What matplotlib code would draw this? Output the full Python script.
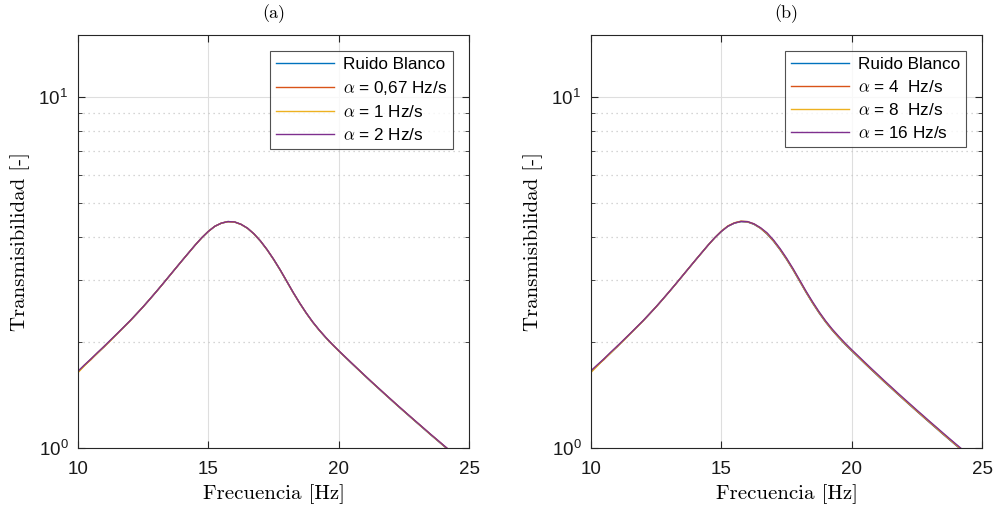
import math
import matplotlib
matplotlib.use("Agg")
import matplotlib.pyplot as plt
from matplotlib.ticker import FixedLocator, LogLocator, NullFormatter, FuncFormatter

plt.rcParams['font.family'] = ['Liberation Sans', 'DejaVu Sans']
plt.rcParams['mathtext.fontset'] = 'cm'

# frecuencias [Hz]
freq = [10.0, 10.25, 10.5, 10.75, 11.0, 11.25, 11.5, 11.75, 12.0, 12.25, 12.5, 12.75,
        13.0, 13.25, 13.5, 13.75, 14.0, 14.25, 14.5, 14.75, 15.0, 15.25, 15.5, 15.75,
        16.0, 16.25, 16.5, 16.75, 17.0, 17.25, 17.5, 17.75, 18.0, 18.25, 18.5, 18.75,
        19.0, 19.25, 19.5, 19.75, 20.0, 20.25, 20.5, 20.75, 21.0, 21.25, 21.5, 21.75,
        22.0, 22.25, 22.5, 22.75, 23.0, 23.25, 23.5, 23.75, 24.0, 24.25, 24.5]

# (a) transmisibilidad
ruido_a = [1.650, 1.719, 1.790, 1.865, 1.943, 2.027, 2.115, 2.207, 2.303, 2.411, 2.525, 2.651,
           2.786, 2.931, 3.087, 3.251, 3.423, 3.601, 3.788, 3.971, 4.139, 4.280, 4.369, 4.413,
           4.403, 4.335, 4.224, 4.068, 3.881, 3.670, 3.445, 3.216, 2.987, 2.773, 2.586, 2.423,
           2.283, 2.165, 2.063, 1.972, 1.890, 1.814, 1.741, 1.672, 1.606, 1.543, 1.484, 1.427,
           1.373, 1.321, 1.272, 1.225, 1.180, 1.137, 1.095, 1.056, 1.018, 0.982, 0.947]
a067 = [1.645, 1.722, 1.786, 1.868, 1.940, 2.027, 2.115, 2.207, 2.303, 2.411, 2.525, 2.651,
        2.786, 2.931, 3.087, 3.251, 3.423, 3.601, 3.788, 3.971, 4.139, 4.280, 4.369, 4.413,
        4.403, 4.335, 4.226, 4.071, 3.884, 3.673, 3.448, 3.219, 2.990, 2.775, 2.588, 2.425,
        2.285, 2.167, 2.065, 1.974, 1.892, 1.816, 1.743, 1.674, 1.608, 1.545, 1.486, 1.429,
        1.375, 1.323, 1.274, 1.227, 1.182, 1.139, 1.097, 1.058, 1.020, 0.984, 0.949]
a1 = [1.640, 1.716, 1.793, 1.862, 1.946, 2.024, 2.115, 2.207, 2.303, 2.411, 2.525, 2.651,
      2.786, 2.931, 3.087, 3.251, 3.423, 3.601, 3.788, 3.971, 4.139, 4.280, 4.369, 4.413,
      4.403, 4.335, 4.226, 4.071, 3.884, 3.673, 3.448, 3.219, 2.990, 2.775, 2.588, 2.425,
      2.285, 2.167, 2.065, 1.974, 1.892, 1.816, 1.743, 1.674, 1.608, 1.545, 1.486, 1.429,
      1.375, 1.323, 1.274, 1.227, 1.182, 1.139, 1.097, 1.058, 1.020, 0.984, 0.949]
a2 = [1.655, 1.725, 1.795, 1.870, 1.948, 2.031, 2.117, 2.209, 2.305, 2.412, 2.526, 2.652,
      2.787, 2.932, 3.088, 3.252, 3.424, 3.602, 3.789, 3.972, 4.140, 4.281, 4.370, 4.414,
      4.405, 4.338, 4.229, 4.075, 3.888, 3.677, 3.452, 3.223, 2.993, 2.778, 2.591, 2.428,
      2.288, 2.170, 2.067, 1.976, 1.894, 1.818, 1.745, 1.676, 1.610, 1.547, 1.488, 1.431,
      1.377, 1.325, 1.276, 1.229, 1.184, 1.141, 1.099, 1.060, 1.022, 0.986, 0.951]

# (b) transmisibilidad
ruido_b = [1.650, 1.719, 1.790, 1.865, 1.943, 2.027, 2.115, 2.207, 2.303, 2.411, 2.525, 2.651,
           2.786, 2.931, 3.087, 3.251, 3.423, 3.601, 3.788, 3.971, 4.139, 4.280, 4.369, 4.413,
           4.403, 4.335, 4.224, 4.068, 3.881, 3.670, 3.445, 3.216, 2.987, 2.773, 2.586, 2.423,
           2.283, 2.165, 2.063, 1.972, 1.890, 1.814, 1.741, 1.672, 1.606, 1.543, 1.484, 1.427,
           1.373, 1.321, 1.272, 1.225, 1.180, 1.137, 1.095, 1.056, 1.018, 0.982, 0.947]
a4 = [1.655, 1.724, 1.787, 1.869, 1.941, 2.030, 2.116, 2.208, 2.304, 2.412, 2.526, 2.652,
      2.787, 2.932, 3.088, 3.252, 3.424, 3.602, 3.789, 3.972, 4.142, 4.284, 4.373, 4.418,
      4.408, 4.342, 4.228, 4.076, 3.889, 3.677, 3.452, 3.222, 2.993, 2.779, 2.591, 2.428,
      2.288, 2.169, 2.067, 1.976, 1.894, 1.818, 1.744, 1.675, 1.609, 1.546, 1.487, 1.430,
      1.375, 1.324, 1.274, 1.227, 1.182, 1.139, 1.097, 1.058, 1.020, 0.984, 0.949]
a8 = [1.642, 1.714, 1.794, 1.861, 1.947, 2.023, 2.114, 2.206, 2.303, 2.411, 2.525, 2.651,
      2.786, 2.931, 3.087, 3.251, 3.423, 3.601, 3.788, 3.971, 4.145, 4.290, 4.380, 4.425,
      4.412, 4.347, 4.232, 4.084, 3.897, 3.685, 3.459, 3.229, 2.999, 2.784, 2.596, 2.433,
      2.292, 2.174, 2.071, 1.980, 1.898, 1.821, 1.748, 1.679, 1.612, 1.549, 1.490, 1.433,
      1.378, 1.326, 1.277, 1.230, 1.185, 1.142, 1.099, 1.060, 1.022, 0.986, 0.951]
a16 = [1.660, 1.727, 1.796, 1.872, 1.950, 2.031, 2.118, 2.210, 2.306, 2.413, 2.527, 2.653,
       2.788, 2.933, 3.089, 3.253, 3.425, 3.603, 3.790, 3.973, 4.141, 4.283, 4.374, 4.420,
       4.414, 4.350, 4.241, 4.101, 3.912, 3.699, 3.473, 3.242, 3.011, 2.795, 2.607, 2.442,
       2.301, 2.182, 2.080, 1.988, 1.905, 1.829, 1.755, 1.685, 1.619, 1.555, 1.496, 1.438,
       1.384, 1.332, 1.282, 1.235, 1.189, 1.146, 1.104, 1.064, 1.026, 0.990, 0.955]

labels_a = ['Ruido Blanco', r'$\alpha$ = 0,67 Hz/s', r'$\alpha$ = 1 Hz/s', r'$\alpha$ = 2 Hz/s']
labels_b = ['Ruido Blanco', r'$\alpha$ = 4  Hz/s', r'$\alpha$ = 8  Hz/s', r'$\alpha$ = 16 Hz/s']
colores = ['#0072BD', '#D95319', '#EDB120', '#7E2F8E']

fig = plt.figure(figsize=(9.95, 5.09), dpi=100)
ax1 = fig.add_axes([0.0784, 0.1198, 0.3930, 0.8114])
ax2 = fig.add_axes([0.5940, 0.1198, 0.3930, 0.8114])

paneles = [(ax1, [ruido_a, a067, a1, a2], labels_a, '(a)'),
           (ax2, [ruido_b, a4, a8, a16], labels_b, '(b)')]

def pot10(v, pos):
    return r'$\mathregular{10^{%d}}$' % round(math.log10(v))

for ax, series, labels, titulo in paneles:
    for ys, lab, c in zip(series, labels, colores):
        ax.plot(freq, ys, color=c, lw=1.0, label=lab)
    ax.set_yscale('log')
    ax.set_xlim(10, 25)
    ax.set_ylim(1, 15)
    ax.xaxis.set_major_locator(FixedLocator([10, 15, 20, 25]))
    ax.yaxis.set_major_locator(FixedLocator([1, 10]))
    ax.yaxis.set_major_formatter(FuncFormatter(pot10))
    ax.yaxis.set_minor_locator(LogLocator(base=10, subs=range(2, 10)))
    ax.yaxis.set_minor_formatter(NullFormatter())
    ax.grid(True, which='major', color='#dedede', lw=0.8, ls='-')
    ax.grid(True, which='minor', axis='y', color='#c8c8c8', lw=0.9, ls=(0, (1, 3)))
    ax.set_axisbelow(True)
    for s in ax.spines.values():
        s.set_color('#262626')
        s.set_linewidth(0.8)
    ax.tick_params(which='both', direction='in', top=True, right=True, colors='#262626',
                   labelsize=13.5, labelcolor='#1a1a1a')
    ax.tick_params(which='major', length=5)
    ax.tick_params(which='minor', length=3)
    ax.tick_params(axis='x', pad=9)
    ax.tick_params(axis='y', pad=7)
    ax.set_xlabel('Frecuencia [Hz]', fontfamily='cmr10', fontsize=15, labelpad=5)
    ax.set_ylabel('Transmisibilidad [-]', fontfamily='cmr10', fontsize=15, labelpad=6)
    ax.set_title(titulo, fontfamily='cmr10', fontsize=13, pad=12)
    leg = ax.legend(loc='upper right', fontsize=12.3, frameon=True, fancybox=False,
                    borderaxespad=0.95, handlelength=3.4, handletextpad=0.5,
                    labelspacing=0.4, borderpad=0.35)
    leg.get_frame().set_edgecolor('#262626')
    leg.get_frame().set_linewidth(0.8)

fig.savefig('out.png', dpi=100)
